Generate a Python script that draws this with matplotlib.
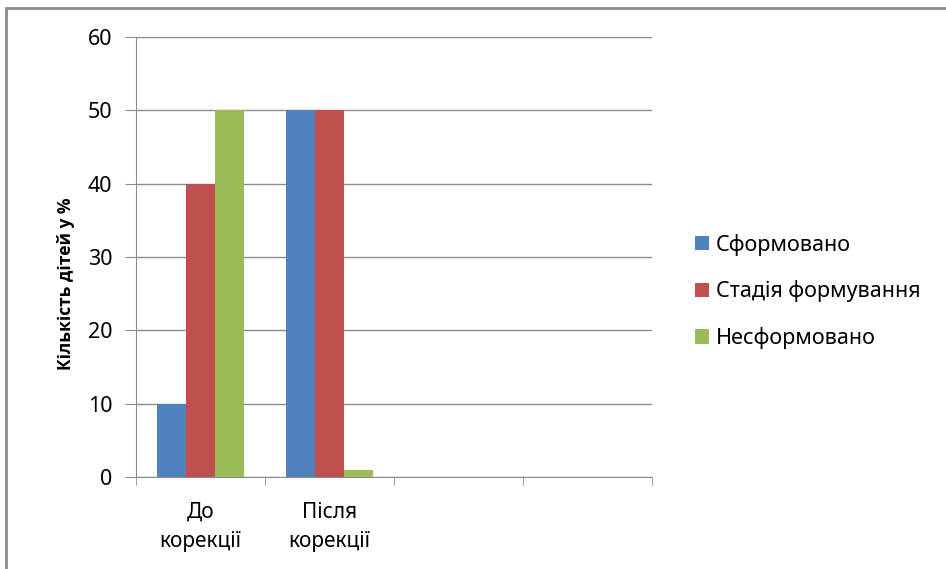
import matplotlib.pyplot as plt
import numpy as np
from matplotlib.patches import Rectangle

plt.rcParams['font.family'] = ['Noto Sans', 'DejaVu Sans']

categories = ['До\nкорекції', 'Після\nкорекції', '', '']
series_names = ['Сформовано', 'Стадія формування', 'Несформовано']
formed = [10, 50, None, None]
forming = [40, 50, None, None]
not_formed = [50, 1, None, None]
colors = ['#4F81BD', '#C0504D', '#9BBB59']

fig = plt.figure(figsize=(9.46, 5.69), dpi=100)
# thin grey frame around the whole chart
fig.patches.append(Rectangle((6 / 946, -0.05), 1, 1.05 - 8 / 569, transform=fig.transFigure,
                             fill=False, edgecolor='#8c8c8c', linewidth=2))

ax = fig.add_axes([136 / 946, (569 - 477) / 569, (652 - 136) / 946, (477 - 37) / 569])

x = np.arange(len(categories))
w = 0.667 / 3
for i, (vals, name, c) in enumerate(zip([formed, forming, not_formed], series_names, colors)):
    xs = [xx + (i - 1) * w for xx, v in zip(x, vals) if v is not None]
    hs = [v for v in vals if v is not None]
    ax.bar(xs, hs, width=w, color=c, label=name, zorder=3)

ax.set_xlim(-0.5, len(categories) - 0.5)
ax.set_ylim(0, 60)
ax.set_yticks(range(0, 61, 10))
ax.yaxis.grid(True, color='#8c8c8c', linewidth=1)
ax.set_axisbelow(True)

ax.set_xticks(x)
ax.set_xticklabels(categories, fontsize=15, linespacing=1.5)
ax.set_xticks(np.arange(-0.5, len(categories), 1), minor=True)
ax.tick_params(axis='x', which='major', length=0, pad=18)
ax.tick_params(axis='x', which='minor', length=6, color='#8c8c8c', direction='out')
ax.tick_params(axis='y', length=8, color='#8c8c8c', labelsize=15.5, pad=9)

for side in ['top', 'right']:
    ax.spines[side].set_visible(False)
for side in ['left', 'bottom']:
    ax.spines[side].set_color('#8c8c8c')

ax.set_ylabel('Кількість дітей у %', fontsize=12.5, fontweight='bold',
              family=['Open Sans', 'DejaVu Sans'])
ax.yaxis.set_label_coords(-0.118, 0.44)

ax.legend(loc='center left', bbox_to_anchor=(1.045, 0.422), frameon=False, fontsize=15.5,
          handlelength=0.65, handleheight=0.65, handletextpad=0.35, labelspacing=1.15)

plt.savefig('out.png', dpi=100)
